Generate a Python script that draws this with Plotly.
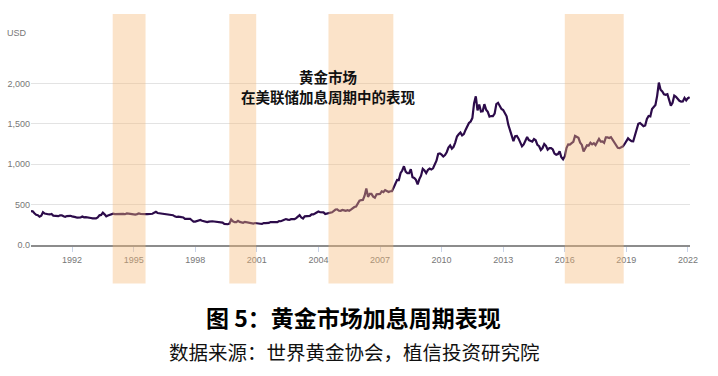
import plotly.graph_objects as go

# Monthly gold price (USD/oz), Jan 1990 - Feb 2022
gold_price = [
    # 1990
    420, 417, 393, 374, 369, 350, 362, 405, 389, 381, 381, 378,
    # 1991
    383, 364, 363, 358, 357, 367, 368, 356, 349, 358, 360, 361,
    # 1992
    354, 354, 345, 338, 337, 341, 353, 343, 345, 344, 335, 334,
    # 1993
    329, 330, 330, 342, 367, 372, 400, 379, 355, 364, 374, 383,
    # 1994
    387, 382, 384, 377, 381, 386, 385, 381, 391, 389, 384, 380,
    # 1995
    379, 377, 382, 391, 385, 387, 386, 383, 383, 383, 386, 387,
    # 1996
    400, 410, 396, 393, 392, 385, 383, 387, 383, 381, 378, 369,
    # 1997
    355, 347, 352, 344, 344, 341, 324, 324, 323, 325, 306, 289,
    # 1998
    289, 297, 296, 309, 300, 293, 293, 284, 289, 296, 294, 291,
    # 1999
    287, 287, 286, 282, 277, 262, 256, 257, 265, 315, 293, 283,
    # 2000
    284, 300, 286, 280, 275, 286, 282, 274, 273, 270, 266, 272,
    # 2001
    266, 262, 263, 261, 272, 270, 268, 273, 284, 283, 276, 276,
    # 2002
    282, 296, 294, 302, 314, 321, 314, 310, 319, 317, 319, 333,
    # 2003
    357, 370, 340, 328, 355, 356, 351, 360, 379, 379, 389, 407,
    # 2004
    414, 405, 406, 404, 384, 392, 398, 400, 405, 420, 439, 442,
    # 2005
    424, 423, 434, 429, 422, 430, 424, 437, 456, 470, 476, 510,
    # 2006
    549, 555, 557, 610, 700, 596, 633, 632, 598, 585, 627, 629,
    # 2007
    631, 664, 655, 679, 667, 655, 665, 665, 712, 754, 806, 803,
    # 2008
    889, 922, 975, 909, 888, 889, 939, 839, 829, 806, 750, 816,
    # 2009
    858, 943, 924, 890, 928, 946, 934, 949, 996, 1043, 1127, 1134,
    # 2010
    1118, 1095, 1113, 1148, 1205, 1232, 1193, 1215, 1271, 1343, 1370, 1391,
    # 2011
    1356, 1372, 1424, 1473, 1510, 1529, 1572, 1756, 1840, 1665, 1739, 1652,
    # 2012
    1656, 1743, 1675, 1649, 1589, 1596, 1594, 1626, 1744, 1760, 1722, 1684,
    # 2013
    1671, 1628, 1593, 1487, 1414, 1343, 1286, 1347, 1349, 1316, 1275, 1221,
    # 2014
    1244, 1300, 1336, 1299, 1287, 1279, 1311, 1296, 1239, 1222, 1176, 1200,
    # 2015
    1250, 1227, 1179, 1198, 1199, 1182, 1131, 1117, 1125, 1159, 1086, 1060,
    # 2016
    1097, 1200, 1245, 1242, 1260, 1276, 1350, 1341, 1326, 1267, 1238, 1157,
    # 2017
    1192, 1234, 1231, 1266, 1246, 1260, 1236, 1283, 1314, 1280, 1283, 1265,
    # 2018
    1331, 1331, 1324, 1335, 1303, 1282, 1238, 1202, 1198, 1215, 1221, 1250,
    # 2019
    1291, 1320, 1300, 1285, 1284, 1359, 1413, 1500, 1510, 1495, 1471, 1480,
    # 2020
    1560, 1597, 1591, 1683, 1716, 1732, 1846, 2010, 1921, 1900, 1866, 1858,
    # 2021
    1867, 1808, 1725, 1760, 1850, 1834, 1807, 1785, 1775, 1777, 1821, 1790,
    # 2022
    1817, 1830,
]
start_year = 1990
x_years = [start_year + i / 12 for i in range(len(gold_price))]

# Fed rate-hike cycles (decimal years)
hike_start = [1993.98, 1999.66, 2004.49, 2016.0]
hike_end = [1995.58, 2000.97, 2007.65, 2018.87]

tick_years = [1992, 1995, 1998, 2001, 2004, 2007, 2010, 2013, 2016, 2019, 2022]
y_ticks = [0, 500, 1000, 1500, 2000, 2500]
y_tick_labels = ["0.0", "500", "1,000", "1,500", "2,000", ""]

title_text = "图 5：黄金市场加息周期表现"
source_text = "数据来源：世界黄金协会，植信投资研究院"
inner_title = ["黄金市场", "在美联储加息周期中的表现"]

W, H = 718, 376
plot_left, plot_right = 31, 690
plot_top, plot_bottom = 43, 245.5
plot_h = plot_bottom - plot_top
plot_w = plot_right - plot_left

fig = go.Figure()
fig.add_trace(go.Scatter(
    x=x_years, y=gold_price, mode="lines",
    line=dict(color="#2c0b4a", width=2.2),
    hoverinfo="skip", showlegend=False,
))

band_y0 = -(284 - plot_bottom) / plot_h
band_y1 = 1 + (plot_top - 14) / plot_h
for s, e in zip(hike_start, hike_end):
    fig.add_shape(type="rect", xref="x", yref="paper",
                  x0=s, x1=e, y0=band_y0, y1=band_y1,
                  fillcolor="#f5b977", opacity=0.4,
                  line=dict(width=0), layer="above")

tick_font = dict(family="Liberation Sans Narrow, Arial Narrow, sans-serif", size=9, color="#777777")

fig.update_xaxes(
    range=[1990, 2022.1], tickvals=tick_years,
    ticktext=[str(t) for t in tick_years],
    showgrid=False, zeroline=False,
    showline=True, linecolor="#8c8c8c", linewidth=2,
    ticks="outside", ticklen=5, tickcolor="#c8d3e8", tickwidth=1,
    tickfont=tick_font, automargin=False,
)
fig.update_yaxes(
    range=[0, 2500], tickvals=y_ticks, ticktext=y_tick_labels,
    showgrid=True, gridcolor="#e3e3e3", gridwidth=1,
    zeroline=False, showline=False, ticks="",
    tickfont=tick_font, automargin=False,
)


def px(xp):
    return (xp - plot_left) / plot_w


def py(yp):
    return (plot_bottom - yp) / plot_h


annotations = [
    dict(text="USD", xref="paper", yref="paper", x=px(29), y=py(33),
         xanchor="right", yanchor="middle", showarrow=False, font=tick_font),
    dict(text="<b>" + inner_title[0] + "</b>", xref="paper", yref="paper",
         x=px(328), y=py(77), xanchor="center", yanchor="middle", showarrow=False,
         font=dict(family="Noto Sans CJK SC", size=14.5, color="#111111")),
    dict(text="<b>" + inner_title[1] + "</b>", xref="paper", yref="paper",
         x=px(328), y=py(97), xanchor="center", yanchor="middle", showarrow=False,
         font=dict(family="Noto Sans CJK SC", size=14.5, color="#111111")),
    dict(text="<b>" + title_text + "</b>", xref="paper", yref="paper",
         x=px(353), y=py(318), xanchor="center", yanchor="middle", showarrow=False,
         font=dict(family="Noto Sans CJK SC", size=23, color="#000000")),
    dict(text=source_text, xref="paper", yref="paper",
         x=px(354), y=py(352), xanchor="center", yanchor="middle", showarrow=False,
         font=dict(family="Noto Sans CJK SC", size=19.5, color="#111111")),
]

fig.update_layout(
    width=W, height=H,
    margin=dict(l=plot_left, r=W - plot_right, t=plot_top, b=H - plot_bottom, pad=0),
    paper_bgcolor="white", plot_bgcolor="white",
    annotations=annotations,
    showlegend=False,
)

fig.write_html("out.html", config={"displayModeBar": False},
               post_script="document.body.style.margin='0';document.body.style.padding='0';")
